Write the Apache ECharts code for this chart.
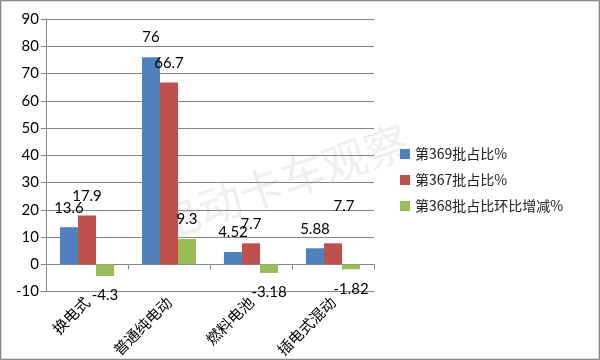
<!DOCTYPE html>
<html><head><meta charset="utf-8">
<script src="https://cdn.jsdelivr.net/npm/echarts@6/dist/echarts.min.js"></script>
<style>html,body{margin:0;padding:0;background:#fff}#c{width:600px;height:360px}</style>
</head><body><div id="c"></div>
<script>
var categories = ['换电式', '普通纯电动', '燃料电池', '插电式混动'];
var seriesNames = ['第369批占比%', '第367批占比%', '第368批占比环比增减%'];
var s369 = [13.6, 76, 4.52, 5.88];
var s367 = [17.9, 66.7, 7.7, 7.7];
var s368 = [-4.3, 9.3, -3.18, -1.82];
var yTicks = [-10, 0, 10, 20, 30, 40, 50, 60, 70, 80, 90];
var colors = ['#4F81BD', '#C0504D', '#9BBB59'];

var chart = echarts.init(document.getElementById('c'));
function mk(vals, si) {
  return vals.map(function (v, i) {
    var d = { value: v };
    if (v < 0) d.label = { position: 'bottom' };
    if (si === 1 && i === 3) d.label = { offset: [11, -18] };
    return d;
  });
}
var all = [s369, s367, s368];
chart.setOption({
  animation: false,
  backgroundColor: '#fff',
  grid: { left: 46, right: 226, top: 19, bottom: 68 },
  xAxis: {
    type: 'category', data: categories,
    axisLine: { onZero: true, lineStyle: { color: '#868686' } },
    axisTick: { show: true, length: 5, lineStyle: { color: '#868686' } },
    axisLabel: { rotate: 45, margin: 8, fontSize: 15, color: '#000', fontFamily: 'Noto Sans CJK SC' }
  },
  yAxis: {
    type: 'value', min: yTicks[0], max: yTicks[yTicks.length - 1], interval: 10,
    axisLine: { show: true, lineStyle: { color: '#868686' } },
    axisTick: { show: true, length: 5, lineStyle: { color: '#868686' } },
    splitLine: { lineStyle: { color: '#868686' } },
    axisLabel: { fontSize: 15, color: '#000', margin: 7, fontFamily: 'Lato' }
  },
  legend: {
    orient: 'vertical', left: 395, top: 142, itemWidth: 10, itemHeight: 10, itemGap: 12,
    icon: 'rect', data: seriesNames,
    textStyle: { fontSize: 14, color: '#222', fontFamily: 'Noto Sans CJK SC' }
  },
  graphic: [
    { type: 'text', left: 150, top: 118, rotation: 0.33, z: 0,
      style: { text: '电动卡车观察', fontSize: 44, fill: 'rgba(180,180,180,0.22)', fontFamily: 'Noto Sans CJK SC' } },
    { type: 'rect', shape: { x: 0.5, y: 0.5, width: 599, height: 359 }, style: { fill: 'none', stroke: '#888', lineWidth: 1.5 }, z: 10 }
  ],
  series: all.map(function (vals, si) {
    return {
      name: seriesNames[si], type: 'bar', data: mk(vals, si),
      barGap: '0%', barCategoryGap: '34%',
      itemStyle: { color: colors[si] },
      label: { show: true, position: 'top', distance: 12, fontSize: 15, color: '#000', fontFamily: 'Lato' }
    };
  })
});
</script></body></html>
